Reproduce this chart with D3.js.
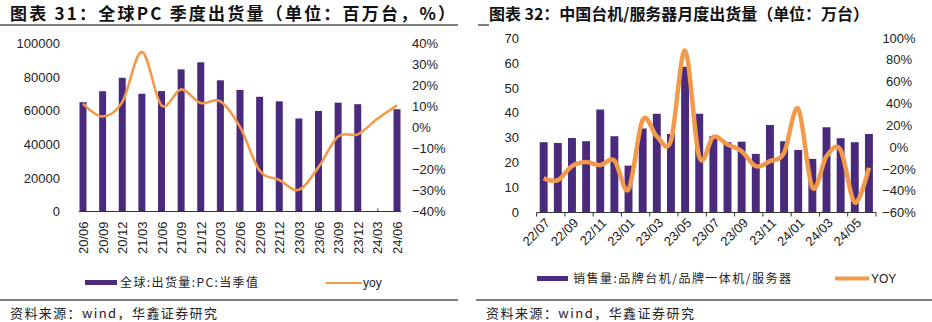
<!DOCTYPE html>
<html>
<head>
<meta charset="utf-8">
<script src="https://cdn.jsdelivr.net/npm/d3@7"></script>
<style>
  html, body { margin: 0; padding: 0; background: #fff; }
  svg { display: block; }
  .tick text { font-family: "Liberation Sans", Arial, sans-serif; font-size: 13px; fill: #222; }
  .cjk { font-family: "Noto Sans CJK SC", sans-serif; }
</style>
</head>
<body>
<svg id="chart" width="932" height="322"></svg>
<script>
// ---- Chart 31: global PC quarterly shipments ----
const pcQuarters = ["20/06","20/09","20/12","21/03","21/06","21/09","21/12","22/03","22/06",
                    "22/09","22/12","23/03","23/06","23/09","23/12","24/03","24/06"];
const pcShipments = [65000, 71500, 79500, 70000, 71600, 84500, 88700, 78000, 72300,
                     68200, 65500, 55300, 59800, 64700, 63800, null, 60800];
const pcYoy = [0.113, 0.052, 0.12, 0.359, 0.105, 0.181, 0.116, 0.124, 0.002,
               -0.205, -0.25, -0.297, -0.189, -0.043, -0.033, 0.041, 0.105];
const pcLeftTicks = [0, 20000, 40000, 60000, 80000, 100000];
const pcRightTicks = [-0.4, -0.3, -0.2, -0.1, 0, 0.1, 0.2, 0.3, 0.4];

// ---- Chart 32: China desktop / server monthly shipments ----
const cnMonths = ["22/07","22/08","22/09","22/10","22/11","22/12","23/01","23/02","23/03","23/04","23/05","23/06",
                  "23/07","23/08","23/09","23/10","23/11","23/12","24/01","24/02","24/03","24/04","24/05","24/06"];
const cnSales = [28.2, 27.9, 29.9, 28.6, 41.3, 30.6, 18.8, 33.7, 39.6, 31.5, 58.5, 39.6,
                 30.6, 28.2, 28.4, 23.5, 35.1, 28.6, 25.1, 21.5, 34.2, 29.8, 28.2, 31.5];
const cnYoy = [-0.287, -0.303, -0.175, -0.138, -0.166, -0.123, -0.388, 0.25, 0.099, 0.059, 0.883, -0.09,
               0.093, 0.023, -0.038, -0.175, -0.129, -0.053, 0.351, -0.372, -0.084, -0.029, -0.509, -0.19];
const cnLeftTicks = [0, 10, 20, 30, 40, 50, 60, 70];
const cnRightTicks = [-0.6, -0.4, -0.2, 0, 0.2, 0.4, 0.6, 0.8, 1.0];

const BAR = "#4a2a7d";
const LINE = "#f29a4c";
const RULE = "#555";

const svg = d3.select("#chart");
const pct = d3.format(".0%");

// ================= Left chart =================
{
  const g = svg.append("g");
  const x = d3.scalePoint().domain(pcQuarters).range([83, 397]);
  const yL = d3.scaleLinear().domain([0, 100000]).range([211.5, 43.3]);
  const yR = d3.scaleLinear().domain([-0.4, 0.4]).range([211.5, 43.3]);

  // title and rules
  g.append("text").attr("class", "cjk").attr("x", 10).attr("y", 19.5)
    .attr("font-size", 17).attr("font-weight", 700).attr("fill", "#111")
    .attr("textLength", 445).attr("lengthAdjust", "spacing")
    .text("图表 31：全球PC 季度出货量（单位：百万台，%）");
  g.append("line").attr("x1", 0).attr("x2", 458).attr("y1", 25).attr("y2", 25)
    .attr("stroke", RULE).attr("stroke-width", 1.5);
  g.append("line").attr("x1", 0).attr("x2", 458).attr("y1", 300).attr("y2", 300)
    .attr("stroke", RULE).attr("stroke-width", 1.5);
  g.append("text").attr("class", "cjk").attr("x", 10).attr("y", 318)
    .attr("font-size", 13).attr("fill", "#222")
    .attr("textLength", 207).attr("lengthAdjust", "spacing")
    .text("资料来源：wind，华鑫证券研究");

  // bars
  g.append("g").selectAll("rect")
    .data(pcQuarters.map((q, i) => ({ q, v: pcShipments[i] })).filter(d => d.v != null))
    .join("rect")
    .attr("x", d => x(d.q) - 3.5).attr("width", 7)
    .attr("y", d => yL(d.v)).attr("height", d => yL(0) - yL(d.v))
    .attr("fill", BAR);

  // x axis
  const xAxis = g.append("g").attr("transform", `translate(0,${yL(0)})`)
    .call(d3.axisBottom(x).tickSizeInner(-3).tickSizeOuter(0));
  xAxis.select(".domain").remove();
  xAxis.selectAll(".tick line").attr("stroke", "#333");
  xAxis.selectAll(".tick text")
    .attr("transform", "rotate(-90)")
    .attr("text-anchor", "end")
    .attr("x", -10).attr("y", 0).attr("dy", "0.35em");
  g.append("line")
    .attr("x1", x(pcQuarters[0]) - 4).attr("x2", x(pcQuarters[pcQuarters.length - 1]) + 4)
    .attr("y1", yL(0)).attr("y2", yL(0)).attr("stroke", "#333").attr("stroke-width", 1);

  // y axes
  const aL = g.append("g").attr("transform", "translate(60,0)")
    .call(d3.axisLeft(yL).tickValues(pcLeftTicks).tickFormat(d3.format("d")).tickSize(0).tickPadding(0));
  aL.select(".domain").remove();
  const aR = g.append("g").attr("transform", "translate(412,0)")
    .call(d3.axisRight(yR).tickValues(pcRightTicks).tickFormat(pct).tickSize(0).tickPadding(0));
  aR.select(".domain").remove();

  // yoy line
  const line = d3.line().x((d, i) => x(pcQuarters[i])).y(d => yR(d)).curve(d3.curveCardinal.tension(0));
  g.append("path").attr("d", line(pcYoy)).attr("fill", "none")
    .attr("stroke", LINE).attr("stroke-width", 2.6).attr("stroke-linejoin", "round");

  // legend
  g.append("rect").attr("x", 85).attr("y", 280).attr("width", 32).attr("height", 5).attr("fill", BAR);
  g.append("text").attr("class", "cjk").attr("x", 120).attr("y", 283).attr("dy", "0.35em")
    .attr("font-size", 12).attr("fill", "#222")
    .attr("textLength", 138).attr("lengthAdjust", "spacing")
    .text("全球:出货量:PC:当季值");
  g.append("line").attr("x1", 326).attr("x2", 362).attr("y1", 283).attr("y2", 283)
    .attr("stroke", LINE).attr("stroke-width", 2);
  g.append("text").attr("x", 363).attr("y", 283).attr("dy", "0.35em")
    .attr("font-family", "Liberation Sans, Arial, sans-serif")
    .attr("font-size", 12).attr("fill", "#222").text("yoy");
}

// ================= Right chart =================
{
  const g = svg.append("g");
  const x = d3.scaleBand().domain(cnMonths).range([536.6, 876]).paddingInner(0.44).paddingOuter(0.22);
  const step = x.step();
  const cx = d => x(d) + x.bandwidth() / 2;
  const yL = d3.scaleLinear().domain([0, 70]).range([212.5, 38]);
  const yR = d3.scaleLinear().domain([-0.6, 1.0]).range([212.5, 38]);

  // title and rules
  g.append("text").attr("class", "cjk").attr("x", 489).attr("y", 19.5)
    .attr("font-size", 16).attr("font-weight", 700).attr("fill", "#111")
    .attr("textLength", 380).attr("lengthAdjust", "spacing")
    .text("图表 32：中国台机/服务器月度出货量（单位：万台）");
  g.append("line").attr("x1", 478).attr("x2", 489).attr("y1", 25).attr("y2", 25)
    .attr("stroke", RULE).attr("stroke-width", 1.5);
  g.append("line").attr("x1", 476).attr("x2", 932).attr("y1", 300).attr("y2", 300)
    .attr("stroke", RULE).attr("stroke-width", 1.5);
  g.append("text").attr("class", "cjk").attr("x", 486).attr("y", 318)
    .attr("font-size", 13).attr("fill", "#222")
    .attr("textLength", 208).attr("lengthAdjust", "spacing")
    .text("资料来源：wind，华鑫证券研究");

  // bars
  g.append("g").selectAll("rect")
    .data(cnMonths.map((m, i) => ({ m, v: cnSales[i] })))
    .join("rect")
    .attr("x", d => x(d.m)).attr("width", x.bandwidth())
    .attr("y", d => yL(d.v)).attr("height", d => yL(0) - yL(d.v))
    .attr("fill", BAR);

  // x axis: line, ticks every two months at band boundaries, rotated labels
  const x0 = cx(cnMonths[0]) - step / 2;
  const x1 = cx(cnMonths[cnMonths.length - 1]) + step / 2;
  g.append("line").attr("x1", x0).attr("x2", x1).attr("y1", yL(0)).attr("y2", yL(0))
    .attr("stroke", "#333").attr("stroke-width", 1);
  const bounds = d3.range(0, cnMonths.length + 1, 2).map(i => x0 + i * step);
  g.append("g").selectAll("line").data(bounds).join("line")
    .attr("x1", d => d).attr("x2", d => d).attr("y1", yL(0)).attr("y2", yL(0) + 4)
    .attr("stroke", "#333");
  const labelled = cnMonths.filter((m, i) => i % 2 === 0);
  g.append("g").attr("class", "tick").selectAll("text").data(labelled).join("text")
    .attr("transform", d => `translate(${cx(d) + 4},${yL(0) + 8}) rotate(-45)`)
    .attr("text-anchor", "end").attr("dy", "0.35em")
    .text(d => d);

  // y axes
  const aL = g.append("g").attr("transform", "translate(519,0)")
    .call(d3.axisLeft(yL).tickValues(cnLeftTicks).tickSize(0).tickPadding(0));
  aL.select(".domain").remove();
  const aR = g.append("g").attr("transform", "translate(899,0)")
    .call(d3.axisRight(yR).tickValues(cnRightTicks).tickFormat(pct).tickSize(0).tickPadding(0));
  aR.select(".domain").remove();
  aR.selectAll("text").attr("text-anchor", "middle");

  // YOY line
  const line = d3.line().x((d, i) => cx(cnMonths[i])).y(d => yR(d)).curve(d3.curveCardinal.tension(0));
  g.append("path").attr("d", line(cnYoy)).attr("fill", "none")
    .attr("stroke", LINE).attr("stroke-width", 4.5).attr("stroke-linejoin", "round");

  // legend
  g.append("rect").attr("x", 537).attr("y", 276).attr("width", 31).attr("height", 5).attr("fill", BAR);
  g.append("text").attr("class", "cjk").attr("x", 573).attr("y", 278.5).attr("dy", "0.35em")
    .attr("font-size", 12).attr("fill", "#222")
    .attr("textLength", 218).attr("lengthAdjust", "spacing")
    .text("销售量:品牌台机/品牌一体机/服务器");
  g.append("line").attr("x1", 835).attr("x2", 869).attr("y1", 278.5).attr("y2", 278.5)
    .attr("stroke", LINE).attr("stroke-width", 4);
  g.append("text").attr("x", 871).attr("y", 278.5).attr("dy", "0.35em")
    .attr("font-family", "Liberation Sans, Arial, sans-serif")
    .attr("font-size", 12).attr("fill", "#222").text("YOY");
}
</script>
</body>
</html>
